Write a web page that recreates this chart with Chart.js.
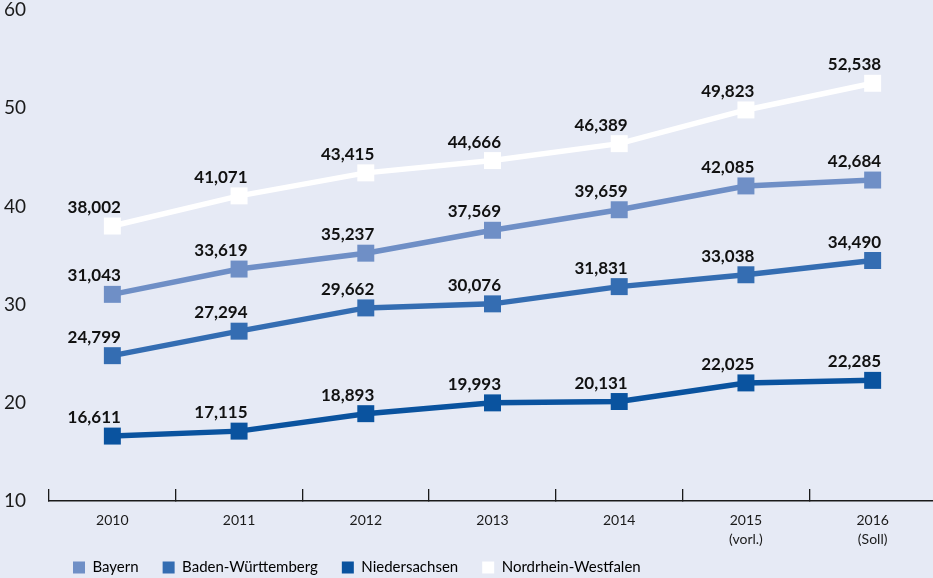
<!DOCTYPE html>
<html>
<head>
<meta charset="utf-8">
<script src="https://cdn.jsdelivr.net/npm/chart.js@4/dist/chart.umd.min.js"></script>
<style>
  html, body { margin: 0; padding: 0; background: #e6eaf5; overflow: hidden; }
  #wrap { width: 936px; height: 578px; }
</style>
</head>
<body>
<div id="wrap"><canvas id="c" width="936" height="578"></canvas></div>
<script>
// Jahre (Kategorien)
const years = [['2010'], ['2011'], ['2012'], ['2013'], ['2014'], ['2015', '(vorl.)'], ['2016', '(Soll)']];

// Werte in Tausend
const bayern = [31.043, 33.619, 35.237, 37.569, 39.659, 42.085, 42.684];
const badenWuerttemberg = [24.799, 27.294, 29.662, 30.076, 31.831, 33.038, 34.490];
const niedersachsen = [16.611, 17.115, 18.893, 19.993, 20.131, 22.025, 22.285];
const nordrheinWestfalen = [38.002, 41.071, 43.415, 44.666, 46.389, 49.823, 52.538];

const seriesNames = ['Bayern', 'Baden-Württemberg', 'Niedersachsen', 'Nordrhein-Westfalen'];
const yTicks = [10, 20, 30, 40, 50, 60];

const colors = ['#6f8fc6', '#346db2', '#0a539f', '#ffffff'];
const FONT = 'Lato, "Open Sans", sans-serif';

function series(name, data, color) {
  return {
    label: name,
    data: data,
    borderColor: color,
    backgroundColor: color,
    borderWidth: 5.5,
    tension: 0,
    pointStyle: 'rect',
    pointRadius: 12,
    pointHoverRadius: 12,
    pointBorderWidth: 0,
    pointBackgroundColor: color
  };
}

// Wertbeschriftungen über den Punkten (rechtsbündig zur Markerkante)
const valueLabels = {
  id: 'valueLabels',
  afterDatasetsDraw(chart) {
    const ctx = chart.ctx;
    ctx.save();
    ctx.font = 'bold 17px ' + FONT;
    ctx.fillStyle = '#111111';
    ctx.textAlign = 'right';
    ctx.textBaseline = 'alphabetic';
    chart.data.datasets.forEach((ds, i) => {
      const meta = chart.getDatasetMeta(i);
      meta.data.forEach((pt, j) => {
        const txt = Math.round(ds.data[j] * 1000).toLocaleString('en-US');
        ctx.fillText(txt, pt.x + 8.5, pt.y - 13);
      });
    });
    ctx.restore();
  }
};

// Legendenzeile: schmale Box unten, nach dem Layout etwas nach oben erweitert
const legendPlacement = {
  id: 'legendPlacement',
  afterInit(chart) {
    const lg = chart.legend;
    if (!lg) return;
    const fit = lg.fit.bind(lg);
    lg.fit = function () { fit(); this.height = 29; };
  },
  afterLayout(chart) {
    const lg = chart.legend;
    if (!lg) return;
    lg.top -= 13;
    lg.height += 13;
  }
};

new Chart(document.getElementById('c'), {
  type: 'line',
  data: {
    labels: years,
    datasets: [
      series(seriesNames[0], bayern, colors[0]),
      series(seriesNames[1], badenWuerttemberg, colors[1]),
      series(seriesNames[2], niedersachsen, colors[2]),
      series(seriesNames[3], nordrheinWestfalen, colors[3])
    ]
  },
  options: {
    responsive: false,
    animation: false,
    events: [],
    layout: { autoPadding: false, padding: { top: 10, right: 0, bottom: 0, left: 0 } },
    scales: {
      x: {
        type: 'category',
        offset: true,
        afterFit(scale) { scale.height = 48; },
        grid: {
          display: true,
          offset: true,
          drawOnChartArea: false,
          drawTicks: true,
          tickLength: -12,
          color: '#1a1a1a',
          lineWidth: 1.3
        },
        border: { display: true, color: '#1a1a1a', width: 1.6 },
        ticks: {
          padding: 22,
          color: '#1a1a1a',
          font: { family: FONT, size: 14, lineHeight: 1.35 },
          maxRotation: 0,
          autoSkip: false
        }
      },
      y: {
        min: 10,
        max: 60,
        afterBuildTicks(scale) { scale.ticks = yTicks.map(v => ({ value: v })); },
        afterFit(scale) {
          scale.width = 49;
          scale.paddingTop = 0;
          scale.paddingBottom = 0;
        },
        grid: { display: false },
        border: { display: false },
        ticks: {
          padding: 15,
          color: '#1a1a1a',
          font: { family: FONT, size: 19 }
        }
      }
    },
    plugins: {
      tooltip: { enabled: false },
      legend: {
        position: 'bottom',
        align: 'start',
        fullSize: false,
        labels: {
          boxWidth: 12,
          boxHeight: 12,
          padding: 24,
          color: '#1a1a1a',
          font: { family: FONT, size: 15 },
          generateLabels(chart) {
            return chart.data.datasets.map((ds, i) => ({
              text: ds.label,
              fillStyle: ds.borderColor,
              strokeStyle: ds.borderColor,
              lineWidth: 0,
              hidden: false,
              datasetIndex: i
            }));
          }
        }
      }
    }
  },
  plugins: [valueLabels, legendPlacement]
});
</script>
</body>
</html>
